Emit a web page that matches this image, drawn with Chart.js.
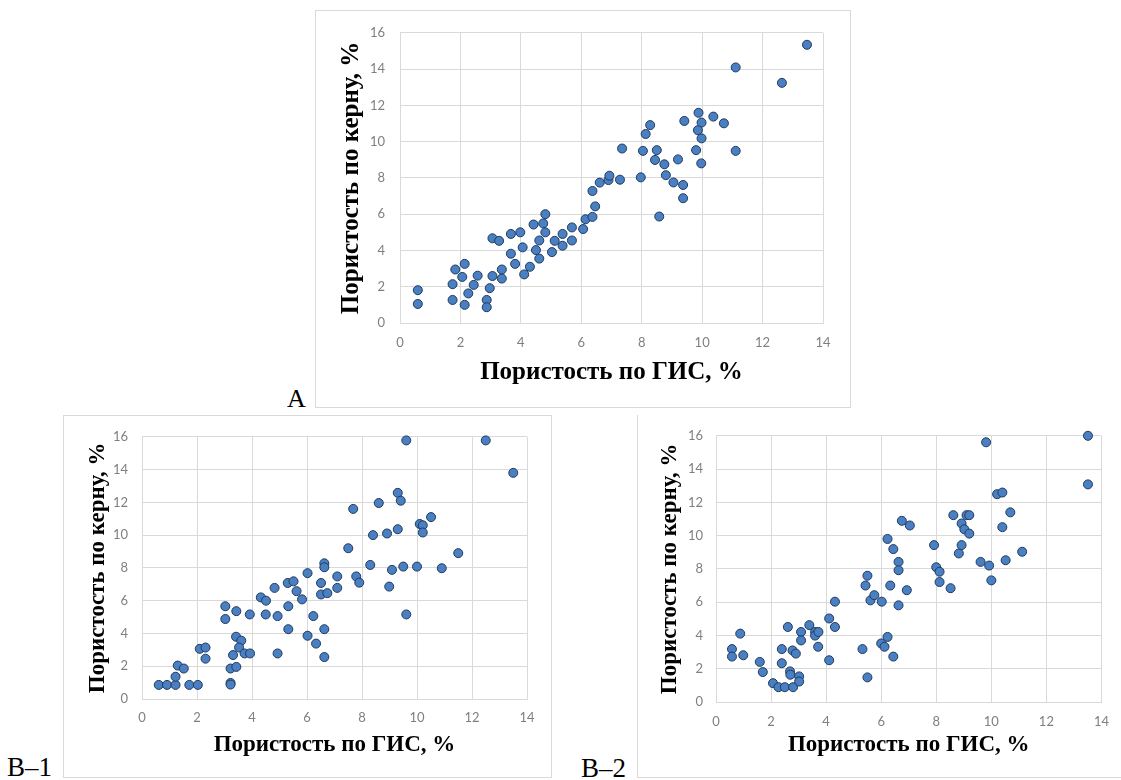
<!DOCTYPE html>
<html><head><meta charset="utf-8">
<script src="https://cdn.jsdelivr.net/npm/chart.js@4.4.1/dist/chart.umd.min.js"></script>
<style>
html,body{margin:0;padding:0;background:#fff;}
#page{position:relative;width:1121px;height:780px;overflow:hidden;background:#fff;}
.frame{position:absolute;box-sizing:border-box;border:1px solid #d9d9d9;}
canvas{position:absolute;}
.lab{position:absolute;font-family:"Liberation Serif","Times New Roman",serif;color:#000;line-height:1;white-space:nowrap;}
</style></head>
<body><div id="page">
<div class="frame" style="left:315px;top:10px;width:536px;height:398px;"></div>
<div class="frame" style="left:63px;top:415px;width:489px;height:363px;"></div>
<div class="frame" style="left:637px;top:415px;width:500px;height:363px;border-top:none;border-right:none;"></div>
<canvas id="cA" width="535" height="397" style="left:315px;top:10px"></canvas>
<canvas id="cB1" width="488" height="362" style="left:63px;top:415px"></canvas>
<canvas id="cB2" width="484" height="362" style="left:637px;top:415px"></canvas>
<div class="lab" style="left:287px;top:386px;font-size:26px">A</div>
<div class="lab" style="left:7px;top:754px;font-size:27px">B–1</div>
<div class="lab" style="left:581px;top:755px;font-size:27px">B–2</div>
</div>
<script>
// ---- data (x = porosity from well logs, y = porosity from core), %
const aGis  = [0.59,0.59,1.74,1.74,1.83,2.14,2.06,2.14,2.26,2.44,2.57,2.87,2.87,2.97,3.06,3.28,3.06,3.37,3.37,3.67,3.67,3.98,3.81,4.06,4.11,4.30,4.42,4.74,4.81,4.81,4.61,4.50,4.61,5.03,5.12,5.38,5.38,5.69,5.69,6.06,6.14,6.37,6.46,6.37,6.61,6.90,6.93,7.28,7.35,7.97,8.04,8.13,8.28,8.50,8.44,8.75,8.80,8.58,9.05,9.20,9.37,9.37,9.41,9.80,9.88,9.98,9.86,9.98,9.97,10.37,10.72,11.11,11.11,12.64,13.47];
const aCore = [1.81,1.05,2.14,1.27,2.95,3.26,2.54,1.00,1.63,2.10,2.61,1.27,0.87,1.92,4.67,4.53,2.59,2.95,2.45,3.82,4.91,5.00,3.26,4.17,2.68,3.10,5.43,5.49,6.00,5.00,4.55,4.02,3.55,3.91,4.53,4.91,4.26,5.27,4.55,5.18,5.72,5.85,6.43,7.28,7.74,7.88,8.12,7.90,9.62,8.03,9.49,10.42,10.91,9.53,8.99,8.75,8.15,5.87,7.75,9.02,7.61,6.88,11.14,9.53,11.59,11.05,10.63,10.18,8.80,11.38,11.01,14.09,9.49,13.24,15.34];

const b1Gis  = [0.61,0.91,1.22,1.22,1.30,1.52,1.72,2.03,2.10,2.31,2.31,3.03,3.03,3.43,3.92,3.22,3.22,3.22,3.43,3.31,3.42,3.61,3.53,3.73,3.93,4.32,4.51,4.50,4.82,4.93,4.93,5.30,5.51,5.62,5.82,5.32,5.32,6.02,6.23,6.02,6.33,6.51,6.51,6.74,6.63,6.63,6.63,6.63,7.10,7.10,7.50,7.68,7.79,7.90,8.30,8.40,8.61,8.91,8.99,9.09,9.30,9.41,9.30,9.50,9.61,9.61,10.00,10.10,10.21,10.21,10.51,10.90,11.50,12.50,13.50];
const b1Core = [0.86,0.86,0.86,1.36,2.04,1.86,0.86,0.86,3.06,3.14,2.46,5.66,4.88,5.36,5.16,0.98,0.88,1.86,1.96,2.68,3.80,3.56,3.14,2.78,2.78,6.20,6.00,5.16,6.78,5.06,2.78,7.08,7.18,6.58,6.08,5.66,4.26,7.68,5.06,3.86,3.38,7.08,6.38,6.46,8.28,8.04,4.26,2.56,7.48,6.78,9.20,11.60,7.48,7.10,8.18,10.00,11.96,10.10,6.86,7.88,12.58,12.10,10.36,8.08,15.78,5.16,8.08,10.68,10.60,10.16,11.10,7.98,8.90,15.78,13.80];

const b2Gis  = [0.58,0.58,0.88,0.99,1.59,1.70,2.07,2.27,2.50,2.80,2.39,2.39,2.61,2.69,2.70,2.78,2.90,3.02,3.02,3.09,3.09,3.39,3.60,3.60,3.72,3.71,4.11,4.32,4.32,4.11,5.32,5.50,5.43,5.50,5.61,5.75,6.02,6.00,6.12,6.23,6.44,6.23,6.44,6.63,6.63,6.33,6.63,6.93,6.75,7.04,7.92,8.00,8.12,8.12,8.52,8.62,8.82,8.92,8.92,9.02,9.10,9.20,9.20,9.61,9.81,9.92,10.00,10.21,10.40,10.40,10.52,10.69,11.12,13.51,13.51];
const b2Core = [3.18,2.73,4.11,2.81,2.41,1.80,1.13,0.89,0.89,0.89,3.18,2.33,4.51,1.84,1.64,3.10,2.91,1.54,1.23,4.21,3.70,4.62,4.21,3.99,4.21,3.32,5.02,6.03,4.51,2.51,3.18,1.48,7.00,7.59,6.11,6.42,6.03,3.52,3.32,3.91,2.73,9.80,9.19,8.42,7.92,7.00,5.81,6.72,10.89,10.61,9.43,8.10,7.83,7.21,6.84,11.23,8.93,9.43,10.73,10.38,11.23,11.23,10.12,8.42,15.61,8.20,7.31,12.49,12.59,10.51,8.52,11.40,9.03,16.00,13.08];

const xTicks = [0,2,4,6,8,10,12,14];
const yTicks = [0,2,4,6,8,10,12,14,16];
const xTitle = 'Пористость по ГИС, %';
const yTitle = 'Пористость по керну, %';

const tickColor = '#7f7f7f';
const gridColor = '#d9d9d9';

function makeScatter(id, xs, ys, L) {
  const pts = xs.map((x, i) => ({x: x, y: ys[i]}));
  return new Chart(document.getElementById(id), {
    type: 'scatter',
    data: {datasets: [{
      data: pts, pointRadius: 4.5, pointHoverRadius: 4.5,
      pointBackgroundColor: '#4a7fc1', pointBorderColor: '#1f3a60', pointBorderWidth: 1,
      clip: false
    }]},
    options: {
      responsive: false, animation: false, events: [],
      layout: {padding: {left: 0, top: L.top, right: L.right, bottom: 0}},
      plugins: {legend: {display: false}, tooltip: {enabled: false}},
      scales: {
        x: {
          type: 'linear', position: 'bottom',
          min: xTicks[0], max: xTicks[xTicks.length - 1],
          afterBuildTicks: s => { s.ticks = xTicks.map(v => ({value: v})); },
          afterFit: s => { s.height = L.xh; },
          grid: {color: gridColor, drawTicks: false, lineWidth: 1},
          border: {color: gridColor},
          ticks: {padding: L.xpad, color: tickColor, font: {family: 'Lato', size: 13}, maxRotation: 0, autoSkip: false},
          title: {display: true, text: xTitle, color: '#000',
                  font: {family: 'Liberation Serif', size: L.ts, weight: 'bold'},
                  padding: {top: 0, bottom: L.xtp}}
        },
        y: {
          type: 'linear', position: 'left',
          min: yTicks[0], max: yTicks[yTicks.length - 1],
          afterBuildTicks: s => { s.ticks = yTicks.map(v => ({value: v})); },
          afterFit: s => { s.width = L.yw; },
          grid: {color: gridColor, drawTicks: false, lineWidth: 1},
          border: {color: gridColor},
          ticks: {padding: L.ypad, color: tickColor, font: {family: 'Lato', size: 13}, autoSkip: false},
          title: {display: true, text: yTitle, color: '#000',
                  font: {family: 'Liberation Serif', size: L.ts, weight: 'bold'},
                  padding: {top: L.ytp, bottom: 0}}
        }
      }
    }
  });
}

makeScatter('cA',  aGis,  aCore,  {top: 18, right: 27, xh: 84, yw: 85, xpad: 12, ypad: 15, ts: 25, xtp: 19, ytp: 22});
makeScatter('cB1', b1Gis, b1Core, {top: 17, right: 24, xh: 78, yw: 79, xpad: 11, ypad: 14, ts: 23, xtp: 18, ytp: 21});
makeScatter('cB2', b2Gis, b2Core, {top: 17, right: 17, xh: 75, yw: 79, xpad: 12, ypad: 13, ts: 23, xtp: 18, ytp: 19});
</script>
</body></html>
